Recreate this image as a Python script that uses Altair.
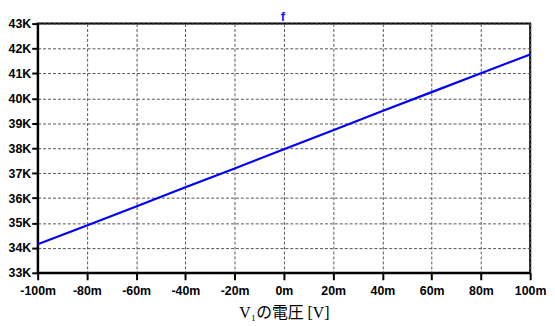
import altair as alt
import pandas as pd

# V1 voltage (V) and frequency f (Hz)
v1 = [-0.10, -0.08, -0.06, -0.04, -0.02, 0.0, 0.02, 0.04, 0.06, 0.08, 0.10]
freq = [34150, 34900, 35660, 36430, 37190, 37960, 38720, 39490, 40250, 41010, 41760]
x_ticks = [-0.10, -0.08, -0.06, -0.04, -0.02, 0.0, 0.02, 0.04, 0.06, 0.08, 0.10]
y_ticks = [33000, 34000, 35000, 36000, 37000, 38000, 39000, 40000, 41000, 42000, 43000]
trace_name = ["f"]

df = pd.DataFrame({"v": v1, "f": freq})

axis_common = dict(
    domain=True, domainColor="black", domainWidth=2,
    ticks=True, tickColor="black", tickWidth=2, tickSize=7,
    grid=True, gridColor="#555555", gridDash=[3, 2], gridWidth=1,
    labelFont="Liberation Sans", labelFontWeight="bold", labelFontSize=12.5,
    labelColor="black",
)

line = alt.Chart(df).mark_line(color="#0000ff", strokeWidth=2.2, clip=True).encode(
    x=alt.X("v:Q",
            scale=alt.Scale(domain=[-0.1, 0.1], nice=False, zero=False),
            axis=alt.Axis(values=x_ticks,
                          labelExpr="round(datum.value*1000) + 'm'",
                          title="V₁の電圧 [V]",
                          titleFont="Liberation Serif, Noto Sans CJK JP",
                          titleFontWeight="normal", titleFontSize=16,
                          titleColor="black", titlePadding=8,
                          labelPadding=5, labelFlush=False,
                          **axis_common)),
    y=alt.Y("f:Q",
            scale=alt.Scale(domain=[33000, 43000], nice=False, zero=False),
            axis=alt.Axis(values=y_ticks,
                          labelExpr="round(datum.value/1000) + 'K'",
                          title=None, labelPadding=1,
                          **{**axis_common, "tickSize": 6})),
)

title = alt.Chart(pd.DataFrame({"t": trace_name})).mark_text(
    color="#1a1aff", font="Liberation Sans", fontSize=13, fontWeight="bold",
    baseline="alphabetic", align="center"
).encode(
    text="t:N",
    x=alt.value(248),
    y=alt.value(-3),
)

chart = alt.layer(line, title).properties(
    width=498, height=252,
    autosize=alt.AutoSizeParams(type="none"),
    padding={"left": 30, "top": 14, "right": 17, "bottom": 52},
).configure_view(
    stroke="black", strokeWidth=2
)

chart.save("out.html", embed_options={"renderer": "svg", "actions": False})
